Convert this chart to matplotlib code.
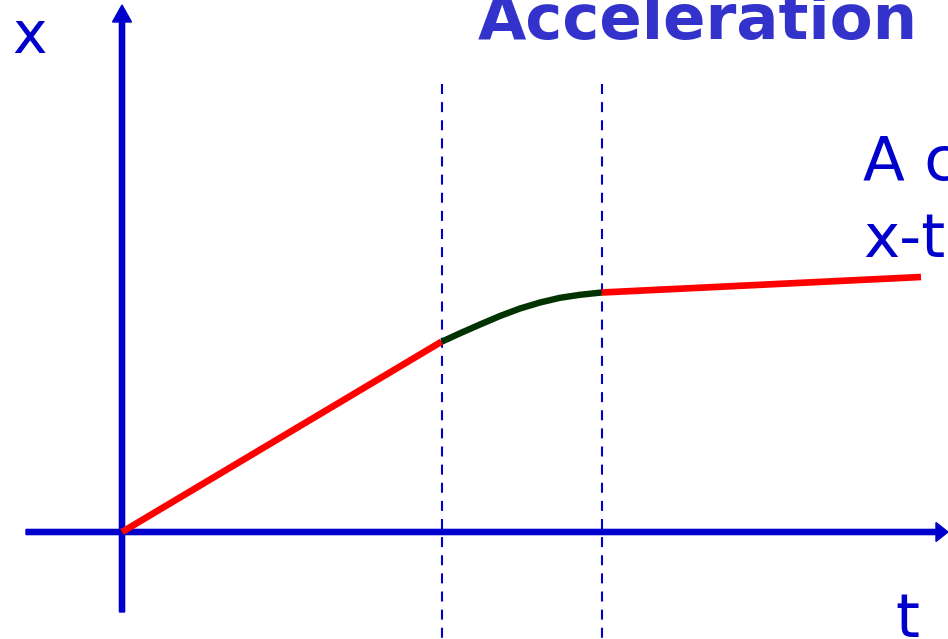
import matplotlib
matplotlib.use('Agg')
import matplotlib.pyplot as plt

# x-t graph pieces (t and x in arbitrary units, origin at the axes crossing)
seg1_t = [0.0, 3.195]
seg1_x = [0.0, 1.903]

curve_t = [3.197, 3.38, 3.58, 3.78, 3.98, 4.18, 4.38, 4.58, 4.797]
curve_x = [1.903, 1.987, 2.075, 2.160, 2.235, 2.295, 2.342, 2.372, 2.395]

seg3_t = [4.797, 7.99]
seg3_x = [2.395, 2.55]

dash_t = [3.20, 4.80]

title = 'Acceleration'
side_text = ['A c', 'x-t']

AXIS_BLUE = '#0000CC'
TITLE_BLUE = '#3333CC'

fig = plt.figure(figsize=(9.48, 6.39), dpi=100)
ax = fig.add_axes([0, 0, 1, 1])
ax.set_xlim(-1.22, 8.26)
ax.set_ylim(-1.07, 5.32)
ax.set_axis_off()

# dashed guides
for t in dash_t:
    ax.plot([t, t], [4.48, -1.07], color=AXIS_BLUE, lw=1.5,
            dashes=(4.8, 3.9), zorder=1)

# axes with arrow heads
ax.arrow(-0.96, 0, 9.22, 0, width=0.052, head_width=0.19, head_length=0.12,
         length_includes_head=True, color=AXIS_BLUE, zorder=2)
ax.arrow(0, -0.80, 0, 6.07, width=0.052, head_width=0.19, head_length=0.17,
         length_includes_head=True, color=AXIS_BLUE, zorder=2)

# the motion
ax.plot(seg1_t, seg1_x, color='#FF0000', lw=4.8, solid_capstyle='butt', zorder=3)
ax.plot(curve_t, curve_x, color='#003300', lw=4.6, solid_capstyle='butt',
        solid_joinstyle='round', zorder=3)
ax.plot(seg3_t, seg3_x, color='#FF0000', lw=4.8, solid_capstyle='butt', zorder=3)

# text
ax.text(3.56, 4.93, title, color=TITLE_BLUE, fontsize=45, fontweight='bold',
        ha='left', va='baseline')
ax.text(-1.10, 4.79, 'x', color=AXIS_BLUE, fontsize=42, ha='left', va='baseline')
ax.text(7.73, -1.05, 't', color=AXIS_BLUE, fontsize=44, ha='left', va='baseline')
ax.text(7.41, 3.52, side_text[0], color=AXIS_BLUE, fontsize=44, ha='left', va='baseline')
ax.text(7.41, 2.75, side_text[1], color=AXIS_BLUE, fontsize=44, ha='left', va='baseline')

fig.savefig('out.png', dpi=100)
